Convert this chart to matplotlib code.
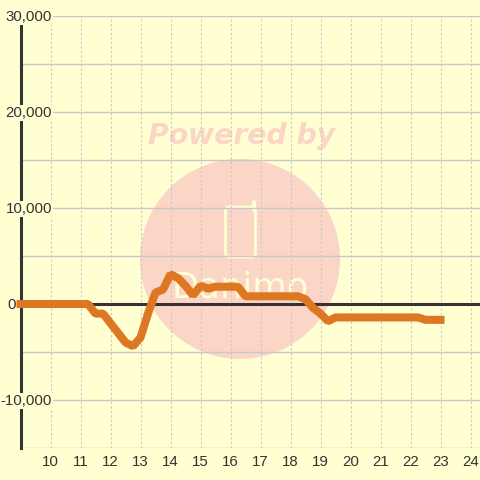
import matplotlib
matplotlib.use('Agg')
import matplotlib.pyplot as plt
from matplotlib.lines import Line2D
from matplotlib.patches import Circle, FancyBboxPatch

plt.rcParams['font.family'] = ['Liberation Sans', 'DejaVu Sans']

# квартальные отсчёты
hours = [9, 9.25, 9.5, 9.75, 10, 10.25, 10.5, 10.75, 11, 11.25, 11.5, 11.75,
         12, 12.25, 12.5, 12.75, 13, 13.25, 13.5, 13.75, 14, 14.25, 14.5, 14.75,
         15, 15.25, 15.5, 15.75, 16, 16.25, 16.5, 16.75, 17, 17.25, 17.5, 17.75,
         18, 18.25, 18.5, 18.75, 19, 19.25, 19.5, 19.75, 20, 20.25, 20.5, 20.75,
         21, 21.25, 21.5, 21.75, 22, 22.25, 22.5, 22.75, 23]
values = [0, 0, 0, 0, 0, 0, 0, 0, 0, 0, -1000, -1000,
          -2000, -3000, -4000, -4400, -3500, -1000, 1200, 1500, 3100, 2700, 1900, 900,
          1900, 1600, 1800, 1800, 1800, 1800, 800, 800, 800, 800, 800, 800,
          800, 800, 500, -400, -1000, -1800, -1400, -1400, -1400, -1400, -1400, -1400,
          -1400, -1400, -1400, -1400, -1400, -1400, -1650, -1650, -1650]
x_ticks = list(range(10, 25))
y_major = [-10000, 0, 10000, 20000, 30000]
y_grid = [-15000, -10000, -5000, 0, 5000, 10000, 15000, 20000, 25000, 30000]

BG = '#ffffd2'
GRID = '#c8c8c8'
DARK = '#333333'
PINK = '#fbd5c5'
ORANGE = '#dd7722'

fig = plt.figure(figsize=(4.8, 4.8), dpi=100, facecolor=BG)
ax = fig.add_axes([20.5 / 480, 32 / 480, 459.5 / 480, 432 / 480], facecolor='none')
ax.set_xlim(9, 9 + 459.5 / 30)
ax.set_ylim(-15000, 30000)

# водяной знак рисуем в пикселях фигуры
def px(x, y):
    return x / 480, 1 - y / 480

fig.patches.append(Circle(px(240, 259), 100 / 480, transform=fig.transFigure,
                          facecolor=PINK, edgecolor='none', zorder=-5))
fig.patches.append(FancyBboxPatch(px(225.5, 257), 30 / 480, 50 / 480,
                                  boxstyle='round,pad=0,rounding_size=0.008',
                                  transform=fig.transFigure, facecolor='none',
                                  edgecolor=BG, linewidth=2, zorder=-4))
antenna_x, antenna_y = zip(px(254, 202), px(254, 210))
fig.add_artist(Line2D(antenna_x, antenna_y, color=BG, linewidth=3.2,
                      solid_capstyle='round', zorder=-4))
fig.text(*px(241.5, 136), 'Powered by', color=PINK, family='DejaVu Sans', fontsize=20.3,
         fontweight='bold', fontstyle='italic', ha='center', va='center', zorder=-4)
fig.text(*px(240, 288), 'Danimo', color=BG, family='DejaVu Sans', fontsize=25.5,
         ha='center', va='center', zorder=-4)

ax.set_xticks(x_ticks)
ax.set_yticks(y_grid)
ax.grid(True, axis='x', color=GRID, linestyle=(0, (2, 2)), linewidth=0.8, zorder=1)
ax.grid(True, axis='y', color=GRID, linestyle='-', linewidth=1, zorder=1)
ax.tick_params(length=0, pad=5, labelsize=10.8, labelcolor=DARK)
ax.set_yticklabels([])
for s in ax.spines.values():
    s.set_visible(False)
ax.axvline(9, color=DARK, linewidth=2.2, zorder=2, clip_on=False)
ax.axhline(0, color=DARK, linewidth=2.2, zorder=2)

ax.plot(hours, values, color=ORANGE, linewidth=5.8, solid_joinstyle='bevel',
        solid_capstyle='projecting', clip_on=False, zorder=3)

# подписи оси Y с фоном, перекрывают ось и сетку; ноль стоит левее оси
for v in y_major:
    right = 16 if v == 0 else 52
    ax.annotate(f'{v:,}', (9, v), xytext=(right, -1),
                textcoords=('figure pixels', 'offset pixels'),
                ha='right', va='center', fontsize=10.8, color=DARK, zorder=2.5,
                bbox=dict(facecolor=BG, edgecolor='none', pad=1), annotation_clip=False)

fig.savefig('out.png', dpi=100, facecolor=BG)
